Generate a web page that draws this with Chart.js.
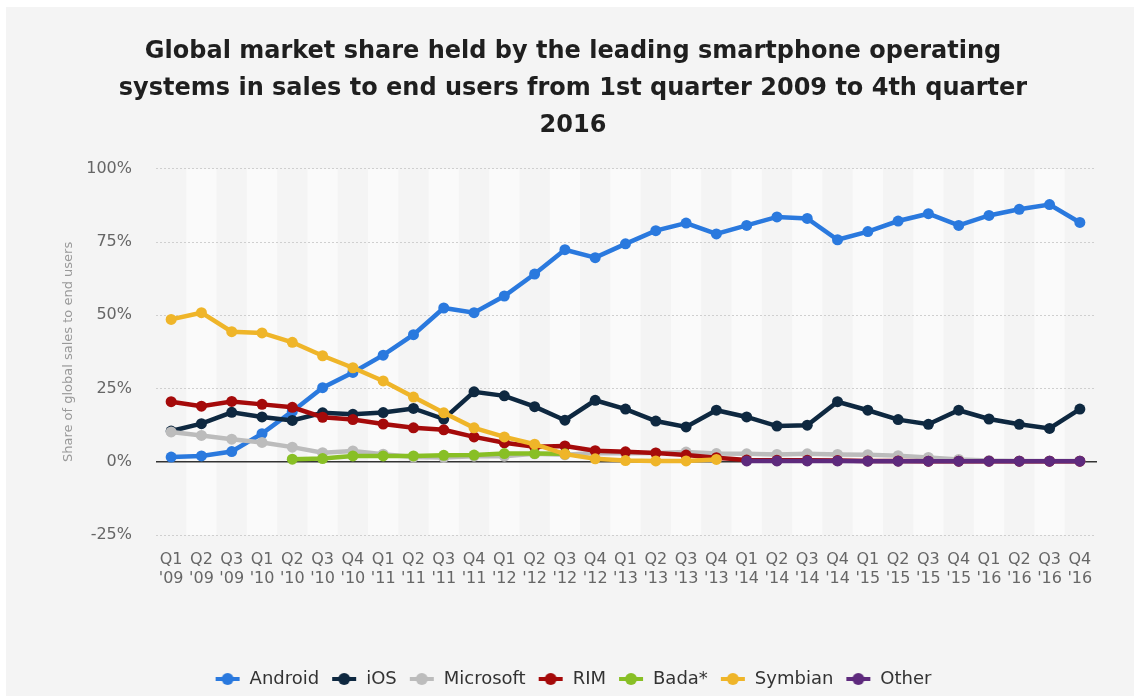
<!DOCTYPE html>
<html>
<head>
<meta charset="utf-8">
<title>Smartphone OS market share 2009-2016</title>
<script src="https://cdn.jsdelivr.net/npm/chart.js@4.4.1/dist/chart.umd.min.js"></script>
<style>
    html, body { margin: 0; padding: 0; background: #fff; overflow: hidden; }
    #panel { position: absolute; left: 6px; top: 7px; width: 1128px; height: 689px; background: #f4f4f4; overflow: hidden; }
    #chart { display: block; }
</style>
</head>
<body>
<div id="panel"><canvas id="chart" width="1128" height="694"></canvas></div>
<script>
// Quarter labels (Q4 '09 is not in the source series)
const quarters = [
    "Q1 '09", "Q2 '09", "Q3 '09",
    "Q1 '10", "Q2 '10", "Q3 '10", "Q4 '10",
    "Q1 '11", "Q2 '11", "Q3 '11", "Q4 '11",
    "Q1 '12", "Q2 '12", "Q3 '12", "Q4 '12",
    "Q1 '13", "Q2 '13", "Q3 '13", "Q4 '13",
    "Q1 '14", "Q2 '14", "Q3 '14", "Q4 '14",
    "Q1 '15", "Q2 '15", "Q3 '15", "Q4 '15",
    "Q1 '16", "Q2 '16", "Q3 '16", "Q4 '16"
];

const yTicks = [-25, 0, 25, 50, 75, 100];

const android = [1.6, 2.0, 3.5, 9.6, 17.2, 25.3, 30.5, 36.4, 43.4, 52.5, 50.9, 56.6, 64.1, 72.4, 69.7,
    74.4, 78.9, 81.5, 77.8, 80.7, 83.6, 83.1, 75.8, 78.6, 82.2, 84.7, 80.7, 84.1, 86.2, 87.8, 81.7];
const ios = [10.5, 13.0, 16.9, 15.3, 14.1, 16.7, 16.2, 16.8, 18.2, 14.6, 23.9, 22.5, 18.8, 14.2, 21.0,
    18.0, 13.9, 11.9, 17.6, 15.3, 12.2, 12.5, 20.5, 17.6, 14.4, 12.8, 17.6, 14.6, 12.8, 11.4, 18.0];
const microsoft = [10.2, 9.0, 7.7, 6.6, 5.0, 3.1, 3.7, 2.6, 1.6, 1.5, 1.9, 1.9, 2.7, 2.4, 3.0,
    2.9, 3.0, 3.3, 2.8, 2.7, 2.5, 2.7, 2.5, 2.4, 2.1, 1.5, 0.8, 0.4, 0.3, 0.3, 0.3];
const rim = [20.5, 19.0, 20.6, 19.6, 18.6, 15.2, 14.4, 12.9, 11.6, 10.9, 8.5, 6.5, 5.1, 5.4, 3.8,
    3.4, 3.0, 2.3, 1.4, 0.6, 0.5, 0.5, 0.4, 0.3, 0.3, 0.2, 0.2, 0.2, 0.2, 0.2, 0.2];
const bada = [null, null, null, null, 0.9, 1.1, 2.0, 2.0, 2.0, 2.2, 2.3, 2.8, 2.8, 2.7, null,
    null, null, null, null, null, null, null, null, null, null, null, null, null, null, null, null];
const symbian = [48.6, 50.9, 44.4, 44.0, 40.8, 36.2, 32.1, 27.6, 22.1, 16.7, 11.6, 8.5, 6.0, 2.6, 1.0,
    0.4, 0.3, 0.3, 0.8, null, null, null, null, null, null, null, null, null, null, null, null];
const other = [null, null, null, null, null, null, null, null, null, null, null, null, null, null, null,
    null, null, null, null, 0.3, 0.3, 0.3, 0.3, 0.2, 0.2, 0.2, 0.2, 0.2, 0.2, 0.2, 0.2];

const FONT = "'DejaVu Sans', 'Noto Sans', sans-serif";

// small line+dot image used as legend symbol
function legendSymbol(color) {
    const c = document.createElement('canvas');
    c.width = 26;
    c.height = 14;
    const g = c.getContext('2d');
    g.strokeStyle = color;
    g.lineWidth = 4;
    g.beginPath();
    g.moveTo(1, 7);
    g.lineTo(25, 7);
    g.stroke();
    g.fillStyle = color;
    g.beginPath();
    g.arc(13, 7, 6, 0, Math.PI * 2);
    g.fill();
    return c;
}

function series(label, data, color, order) {
    return {
        label: label,
        data: data,
        borderColor: color,
        backgroundColor: color,
        pointBackgroundColor: color,
        pointBorderWidth: 0,
        pointRadius: 5.5,
        pointHoverRadius: 6,
        borderWidth: 4.5,
        tension: 0,
        spanGaps: false,
        order: order
    };
}

// alternating column bands behind the grid
const bandsPlugin = {
    id: 'bands',
    beforeDraw(chart) {
        const { ctx, chartArea, scales } = chart;
        const x = scales.x;
        const w = x.getPixelForValue(1) - x.getPixelForValue(0);
        ctx.save();
        ctx.fillStyle = '#fafafa';
        for (let i = 1; i < quarters.length; i += 2) {
            const cx = x.getPixelForValue(i);
            ctx.fillRect(cx - w / 2, chartArea.top, w, chartArea.bottom - chartArea.top);
        }
        ctx.restore();
    }
};

// solid zero line
const zeroLinePlugin = {
    id: 'zeroLine',
    beforeDatasetsDraw(chart) {
        const { ctx, chartArea, scales } = chart;
        const y0 = scales.y.getPixelForValue(0);
        ctx.save();
        ctx.strokeStyle = '#333';
        ctx.lineWidth = 1.5;
        ctx.beginPath();
        ctx.moveTo(chartArea.left, y0);
        ctx.lineTo(chartArea.right + 2, y0);
        ctx.stroke();
        ctx.restore();
    }
};

new Chart(document.getElementById('chart'), {
    type: 'line',
    data: {
        labels: quarters,
        datasets: [
            series('Android', android, '#2a79de', 6),
            series('iOS', ios, '#0e2840', 5),
            series('Microsoft', microsoft, '#bcbcbc', 4),
            series('RIM', rim, '#a50a0a', 3),
            series('Bada*', bada, '#88bf25', 2),
            series('Symbian', symbian, '#efb529', 1),
            series('Other', other, '#5e2a7d', 0)
        ]
    },
    options: {
        responsive: false,
        devicePixelRatio: 1,
        animation: false,
        layout: { padding: { left: 45, right: 39, top: 0, bottom: 3 } },
        plugins: {
            title: {
                display: true,
                text: [
                    'Global market share held by the leading smartphone operating',
                    'systems in sales to end users from 1st quarter 2009 to 4th quarter',
                    '2016'
                ],
                color: '#1f1f1f',
                font: { family: FONT, size: 24, weight: 'bold', lineHeight: 1.54 },
                padding: { top: 26, bottom: 25 }
            },
            legend: {
                position: 'bottom',
                labels: {
                    usePointStyle: true,
                    pointStyleWidth: 26,
                    padding: 12,
                    color: '#333',
                    font: { family: FONT, size: 18 },
                    generateLabels(chart) {
                        return chart.data.datasets.map((ds, i) => ({
                            text: ds.label,
                            fillStyle: ds.borderColor,
                            strokeStyle: ds.borderColor,
                            lineWidth: 0,
                            pointStyle: legendSymbol(ds.borderColor),
                            hidden: !chart.isDatasetVisible(i),
                            datasetIndex: i,
                            fontColor: '#333'
                        }));
                    }
                }
            },
            tooltip: { enabled: false }
        },
        scales: {
            x: {
                offset: true,
                grid: { display: false, drawTicks: false },
                border: { display: false },
                ticks: {
                    color: '#666',
                    font: { family: FONT, size: 16, lineHeight: 1.2 },
                    padding: 15,
                    maxRotation: 0,
                    autoSkip: false,
                    callback(v) { return this.getLabelForValue(v).split(' '); }
                },
                afterFit(scale) { scale.height = 123; }
            },
            y: {
                min: yTicks[0],
                max: yTicks[yTicks.length - 1],
                afterBuildTicks(scale) { scale.ticks = yTicks.map(v => ({ value: v })); },
                ticks: {
                    color: '#666',
                    font: { family: FONT, size: 16 },
                    padding: 24,
                    callback: v => v + '%'
                },
                grid: {
                    drawTicks: false,
                    lineWidth: 1,
                    color: ctx => (ctx.tick && ctx.tick.value === 0) ? 'rgba(0,0,0,0)' : '#cfcfcf'
                },
                border: { display: false, dash: [2, 2] },
                title: {
                    display: true,
                    text: 'Share of global sales to end users',
                    color: '#999',
                    font: { family: FONT, size: 13 },
                    padding: { top: 10, bottom: 0 }
                },
                afterFit(scale) { scale.width = 105; }
            }
        }
    },
    plugins: [bandsPlugin, zeroLinePlugin]
});
</script>
</body>
</html>
